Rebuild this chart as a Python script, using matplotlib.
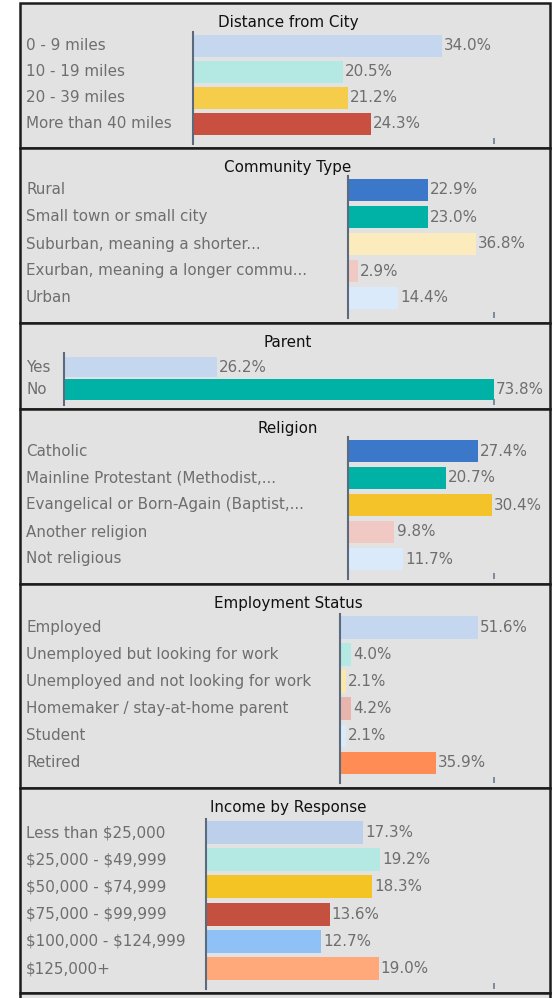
import matplotlib
matplotlib.use("Agg")
import matplotlib.pyplot as plt
from matplotlib.patches import Rectangle
from matplotlib.transforms import blended_transform_factory

# survey breakdowns, percent of respondents
dist_title = "Distance from City"
dist_labels = ["0 - 9 miles", "10 - 19 miles", "20 - 39 miles", "More than 40 miles"]
dist_values = [34.0, 20.5, 21.2, 24.3]
dist_colors = ["#c5d7ef", "#b3e8e3", "#f6cd4b", "#c94f40"]

comm_title = "Community Type"
comm_labels = ["Rural", "Small town or small city", "Suburban, meaning a shorter...",
               "Exurban, meaning a longer commu...", "Urban"]
comm_values = [22.9, 23.0, 36.8, 2.9, 14.4]
comm_colors = ["#3b78c9", "#00b2a6", "#fcecbd", "#f1c9c4", "#dbeafb"]

parent_title = "Parent"
parent_labels = ["Yes", "No"]
parent_values = [26.2, 73.8]
parent_colors = ["#c5d7ef", "#00b2a6"]

rel_title = "Religion"
rel_labels = ["Catholic", "Mainline Protestant (Methodist,...",
              "Evangelical or Born-Again (Baptist,...", "Another religion", "Not religious"]
rel_values = [27.4, 20.7, 30.4, 9.8, 11.7]
rel_colors = ["#3b78c9", "#00b2a6", "#f4c32a", "#f1c9c4", "#dbeafb"]

emp_title = "Employment Status"
emp_labels = ["Employed", "Unemployed but looking for work", "Unemployed and not looking for work",
              "Homemaker / stay-at-home parent", "Student", "Retired"]
emp_values = [51.6, 4.0, 2.1, 4.2, 2.1, 35.9]
emp_colors = ["#c5d7ef", "#b3e8e3", "#fce8a8", "#e8b5ae", "#dbeafb", "#ff8c55"]

inc_title = "Income by Response"
inc_labels = ["Less than $25,000", "$25,000 - $49,999", "$50,000 - $74,999",
              "$75,000 - $99,999", "$100,000 - $124,999", "$125,000+"]
inc_values = [17.3, 19.2, 18.3, 13.6, 12.7, 19.0]
inc_colors = ["#bcd0ec", "#b3e8e3", "#f4c324", "#c4503f", "#8fc1f7", "#ffa87a"]

W, H = 552, 998
fig = plt.figure(figsize=(W / 100, H / 100), dpi=100)
fig.patch.set_facecolor("white")

FS = 10.9
GRAY = "#6e6e6e"


def fx(px):
    return px / W


def fy(py):
    return 1 - py / H


def panel_box(top, bottom, left=20, right=550):
    fig.add_artist(Rectangle((fx(left), fy(bottom)), fx(right) - fx(left), fy(top) - fy(bottom),
                             transform=fig.transFigure, facecolor="#e2e2e2",
                             edgecolor="#1c1c1c", lw=1.8, zorder=0))


def panel(title, labels, values, colors, top, bottom, axis_x, row0, step, xmax,
          bar_h=0.84, pad_bot=20):
    panel_box(top, bottom)
    n = len(values)
    y_top = row0 - 14
    y_bot = row0 + step * (n - 1) + pad_bot
    ax = fig.add_axes([fx(axis_x), fy(y_bot), fx(494) - fx(axis_x), fy(y_top) - fy(y_bot)])
    ax.set_facecolor("none")
    ax.barh(range(n), values, height=bar_h, color=colors, zorder=2)
    ax.set_xlim(0, xmax)
    ax.set_ylim(n - 1 + pad_bot / step, -14 / step)
    for s in ["top", "right", "bottom"]:
        ax.spines[s].set_visible(False)
    ax.spines["left"].set_color("#5b6b7d")
    ax.spines["left"].set_linewidth(1.5)
    ax.set_yticks([])
    ax.set_xticks([xmax])
    ax.tick_params(axis="x", direction="in", length=4.5, width=1.4, color="#7a8a9a",
                   labelbottom=False)
    for i, v in enumerate(values):
        ax.annotate(f"{v:.1f}%", xy=(v, i), xytext=(1.5, 0), textcoords="offset points",
                    va="center", ha="left", fontsize=FS, color=GRAY, annotation_clip=False)
    # category names sit at a fixed left margin of the panel
    trans = blended_transform_factory(fig.transFigure, ax.transData)
    for i, lab in enumerate(labels):
        ax.text(fx(26), i, lab, transform=trans, va="center", ha="left", fontsize=FS,
                color=GRAY, parse_math=False)
    fig.text(fx(288), fy(top + 19.5), title, ha="center", va="center", fontsize=FS,
             color="#111111")
    return ax


panel(dist_title, dist_labels, dist_values, dist_colors, 3, 148, 193, 46, 26, 41.1)
panel(comm_title, comm_labels, comm_values, comm_colors, 148, 323, 348, 190, 27, 42.0)
panel(parent_title, parent_labels, parent_values, parent_colors, 323, 409, 64, 367, 22.5, 73.8,
      bar_h=0.9, pad_bot=16)
panel(rel_title, rel_labels, rel_values, rel_colors, 409, 584, 348, 451, 27, 30.8)
panel(emp_title, emp_labels, emp_values, emp_colors, 584, 788, 340, 627.5, 27.1, 57.6)
panel(inc_title, inc_labels, inc_values, inc_colors, 788, 993, 206, 832.5, 27.2, 31.7)
# next panel continues below the visible area
panel_box(993, 1010)

fig.savefig("out.png", dpi=100)
